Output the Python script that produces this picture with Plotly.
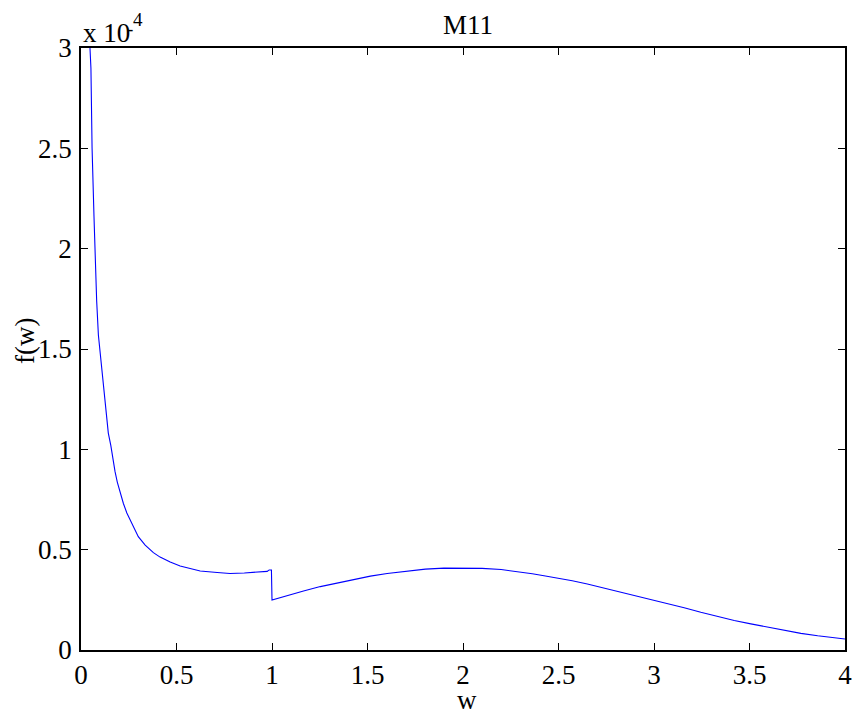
import plotly.graph_objects as go

# data (f in units of 1e-4)
w_vals = [0.044, 0.047, 0.052, 0.058, 0.068, 0.075, 0.082, 0.091, 0.105, 0.117, 0.126,
          0.135, 0.143, 0.156, 0.166, 0.178, 0.190, 0.204, 0.222, 0.240, 0.257, 0.274,
          0.300, 0.336, 0.379, 0.414, 0.467, 0.519, 0.571, 0.624, 0.713, 0.780, 0.855,
          0.930, 0.975, 0.985, 0.997,
          1.000, 1.043, 1.096, 1.165, 1.253, 1.340, 1.428, 1.515, 1.603, 1.690, 1.750,
          1.803, 1.900, 2.000, 2.100, 2.200, 2.293, 2.363, 2.424, 2.494, 2.572, 2.651,
          2.738, 2.808, 2.878, 2.966, 3.070, 3.158, 3.245, 3.333, 3.420, 3.507, 3.595,
          3.682, 3.769, 3.857, 3.944, 4.000]
f_vals = [3.30, 3.00, 2.90, 2.50, 2.16, 1.91, 1.74, 1.57, 1.43, 1.32, 1.236,
          1.156, 1.081, 1.02, 0.95, 0.89, 0.837, 0.785, 0.73, 0.683, 0.648, 0.610,
          0.565, 0.523, 0.485, 0.463, 0.438, 0.419, 0.405, 0.394, 0.386, 0.381, 0.384,
          0.389, 0.392, 0.399, 0.399,
          0.249, 0.261, 0.278, 0.294, 0.316, 0.333, 0.352, 0.368, 0.381, 0.392, 0.399,
          0.403, 0.408, 0.409, 0.407, 0.401, 0.390, 0.380, 0.370, 0.359, 0.345, 0.329,
          0.309, 0.292, 0.275, 0.255, 0.233, 0.211, 0.188, 0.167, 0.147, 0.130, 0.114,
          0.097, 0.083, 0.071, 0.062, 0.055]

x_ticks = [0, 0.5, 1, 1.5, 2, 2.5, 3, 3.5, 4]
x_tick_text = ["0", "0.5", "1", "1.5", "2", "2.5", "3", "3.5", "4"]
y_ticks = [0, 0.5, 1, 1.5, 2, 2.5, 3]
y_tick_text = ["0", "0.5", "1", "1.5", "2", "2.5", "3"]

FONT = "Liberation Serif"
FS = 27

OFF = 8  # default body margin of the html page
W, H = 862 - OFF, 723 - OFF
L, R, T, B = 81 - OFF, 17, 48 - OFF, 73
PW, PH = W - L - R, H - T - B


def px_x(p):
    return (p - OFF - L) / PW


def px_y(p):
    return (H - B - (p - OFF)) / PH


fig = go.Figure()
fig.add_trace(go.Scatter(x=w_vals, y=f_vals, mode="lines",
                         line=dict(color="#0000ff", width=1.1), showlegend=False))

axis_common = dict(showline=True, linecolor="black", linewidth=1.5, mirror="ticks",
                   ticks="inside", ticklen=7, tickwidth=1, tickcolor="black",
                   showgrid=False, zeroline=False, automargin=False,
                   tickfont=dict(family=FONT, size=FS, color="black"))

fig.update_xaxes(range=[0, 4], tickvals=x_ticks, ticktext=x_tick_text, **axis_common)
fig.update_yaxes(range=[0, 3], tickvals=y_ticks, ticktext=y_tick_text,
                 ticklabelstandoff=2, **axis_common)

txt = dict(family=FONT, size=FS, color="black")
fig.update_layout(
    width=W, height=H,
    margin=dict(l=L, r=R, t=T, b=B),
    paper_bgcolor="white", plot_bgcolor="white",
    annotations=[
        dict(text="M11", xref="paper", yref="paper", x=px_x(468), y=px_y(25),
             xanchor="center", yanchor="middle", showarrow=False, font=txt),
        dict(text="w", xref="paper", yref="paper", x=px_x(467), y=px_y(700),
             xanchor="center", yanchor="middle", showarrow=False, font=txt),
        dict(text="f(w)", xref="paper", yref="paper", x=px_x(25), y=px_y(341),
             xanchor="center", yanchor="middle", showarrow=False, font=txt, textangle=-90),
        dict(text="x 10", xref="paper", yref="paper", x=px_x(81), y=px_y(33),
             xanchor="left", yanchor="middle", showarrow=False, font=txt),
        dict(text="-", xref="paper", yref="paper", x=px_x(125), y=px_y(28),
             xanchor="left", yanchor="middle", showarrow=False,
             font=dict(family=FONT, size=19, color="black")),
        dict(text="4", xref="paper", yref="paper", x=px_x(131), y=px_y(20),
             xanchor="left", yanchor="middle", showarrow=False,
             font=dict(family=FONT, size=19, color="black")),
    ],
)

fig.write_html("out.html")
